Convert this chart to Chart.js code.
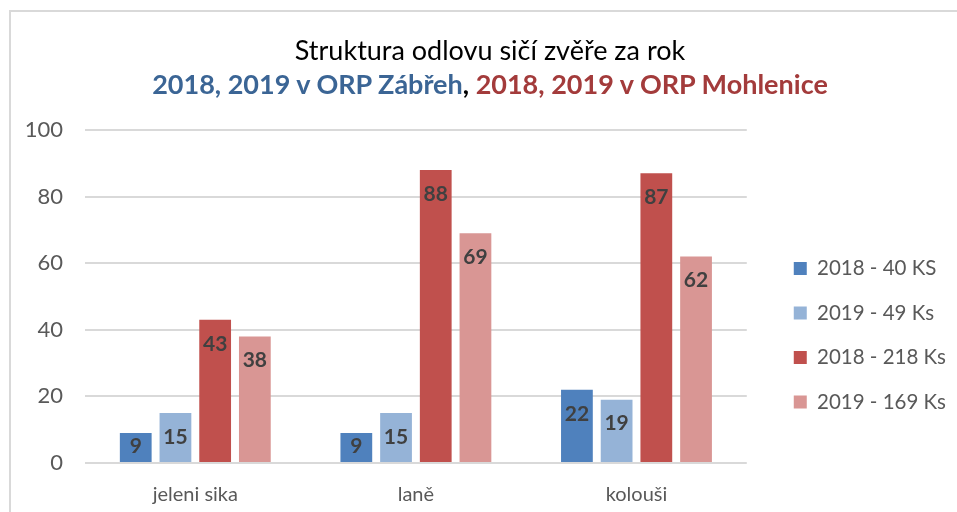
<!DOCTYPE html>
<html>
<head>
<meta charset="utf-8">
<script src="https://cdn.jsdelivr.net/npm/chart.js@4"></script>
<style>
  html, body { margin: 0; padding: 0; background: #fff; }
  #wrap { position: relative; width: 957px; height: 512px; overflow: hidden; }
  #frame { position: absolute; left: 9px; top: 10px; width: 1000px; height: 600px;
           border-left: 2px solid #d9d9d9; border-top: 2px solid #d9d9d9; }
  #title { position: absolute; left: 9px; top: 33px; width: 962px; text-align: center;
           font-family: Lato, "Open Sans", sans-serif; color: #000; }
  #title .l1 { font-size: 27px; line-height: 34px; }
  #title .l2 { font-size: 27px; line-height: 34px; font-weight: bold; }
  .blue { color: #3b6595; }
  .red { color: #a33b3b; }
  canvas { position: absolute; left: 0; top: 0; }
</style>
</head>
<body>
<div id="wrap">
  <div id="frame"></div>
  <canvas id="odlov" width="957" height="512"></canvas>
  <div id="title">
    <div class="l1">Struktura odlovu sičí zvěře za rok</div>
    <div class="l2"><span class="blue">2018, 2019 v ORP Zábřeh</span>, <span class="red">2018, 2019 v ORP Mohlenice</span></div>
  </div>
</div>
<script>
// Data
const categories = ['jeleni sika', 'laně', 'kolouši'];
const zabreh2018 = [9, 9, 22];
const zabreh2019 = [15, 15, 19];
const mohlenice2018 = [43, 88, 87];
const mohlenice2019 = [38, 69, 62];
const yTicks = [0, 20, 40, 60, 80, 100];

// values written inside the top of each bar
const barLabels = {
    id: 'barLabels',
    afterDatasetsDraw(chart) {
        const ctx = chart.ctx;
        ctx.save();
        ctx.font = 'bold 21px Lato, "Open Sans", sans-serif';
        ctx.fillStyle = '#404040';
        ctx.textAlign = 'center';
        ctx.textBaseline = 'middle';
        chart.data.datasets.forEach((ds, i) => {
            chart.getDatasetMeta(i).data.forEach((bar, j) => {
                let y = Math.min(bar.y + 24, bar.base - 16);
                ctx.fillText(ds.data[j], bar.x, y);
            });
        });
        ctx.restore();
    }
};

new Chart(document.getElementById('odlov'), {
    type: 'bar',
    data: {
        labels: categories,
        datasets: [
            { label: '2018 - 40 KS', data: zabreh2018, backgroundColor: '#4f81bd' },
            { label: '2019 - 49 Ks', data: zabreh2019, backgroundColor: '#95b3d7' },
            { label: '2018 - 218 Ks', data: mohlenice2018, backgroundColor: '#c0504d' },
            { label: '2019 - 169 Ks', data: mohlenice2019, backgroundColor: '#d99694' }
        ]
    },
    options: {
        responsive: false,
        animation: false,
        events: [],
        layout: { padding: { top: 130, left: 0, right: 1, bottom: 0 } },
        datasets: { bar: { barPercentage: 0.8, categoryPercentage: 0.72 } },
        scales: {
            x: {
                afterFit: s => { s.height = 49; },
                grid: { display: false, drawTicks: false },
                border: { display: false },
                ticks: { color: '#595959', padding: 20, font: { size: 20, family: 'Lato' } }
            },
            y: {
                min: 0,
                max: 100,
                afterFit: s => { s.width = 85; },
                afterBuildTicks: axis => { axis.ticks = yTicks.map(v => ({ value: v })); },
                grid: { color: '#d9d9d9', lineWidth: 2, drawTicks: false },
                border: { display: false },
                ticks: { color: '#595959', padding: 22, font: { size: 22, family: 'Lato' } }
            },
            // empty right axis, only keeps a gap between the plot and the legend
            gap: {
                position: 'right',
                min: 0,
                max: 100,
                afterFit: s => { s.width = 23; },
                grid: { display: false, drawTicks: false },
                border: { display: false },
                ticks: { display: false }
            }
        },
        plugins: {
            title: { display: false },
            tooltip: { enabled: false },
            legend: {
                position: 'right',
                align: 'start',
                maxWidth: 240,
                title: { display: true, text: ' ', font: { size: 1 }, padding: { top: 0, bottom: 103 } },
                labels: {
                    boxWidth: 13,
                    boxHeight: 13,
                    padding: 24,
                    color: '#595959',
                    font: { size: 20.5, family: 'Lato' }
                }
            }
        }
    },
    plugins: [barLabels]
});
</script>
</body>
</html>
